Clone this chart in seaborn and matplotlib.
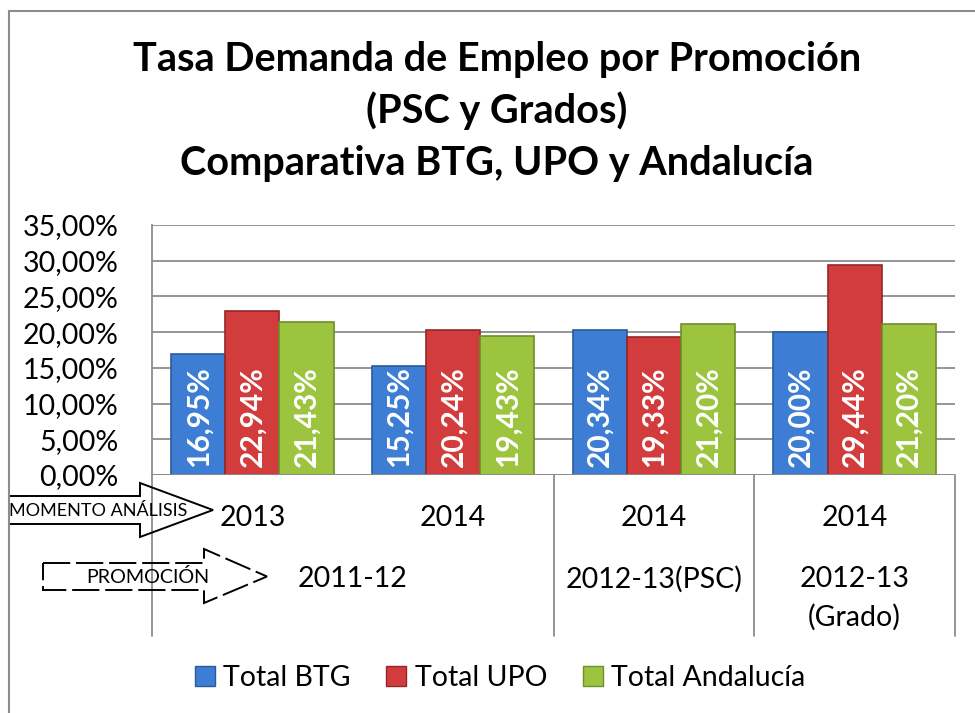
import matplotlib
matplotlib.use("Agg")
import matplotlib.pyplot as plt
from matplotlib.lines import Line2D
from matplotlib.patches import Polygon
import matplotlib.transforms as mtransforms
import seaborn as sns
import pandas as pd

# datos
momento = ["2013", "2014", "2014", "2014"]
grupos = ["g1", "g2", "g3", "g4"]
series = ["Total BTG", "Total UPO", "Total Andalucía"]
total_btg = [16.95, 15.25, 20.34, 20.00]
total_upo = [22.94, 20.24, 19.33, 29.44]
total_and = [21.43, 19.43, 21.20, 21.20]
promociones = [["2011-12"], ["2012-13(PSC)"], ["2012-13", "(Grado)"]]
promo_span = [(0, 1), (2, 2), (3, 3)]
y_ticks = [0, 5, 10, 15, 20, 25, 30, 35]
titulo = ["Tasa Demanda de Empleo por Promoción", "(PSC y Grados)",
          "Comparativa BTG, UPO y Andalucía"]

colores = ["#3d7ed4", "#d23c3c", "#9cc43f"]
bordes = ["#2a5a9c", "#962626", "#6e8f2a"]

rows = []
for s, vals in zip(series, [total_btg, total_upo, total_and]):
    for g, v in zip(grupos, vals):
        rows.append({"grupo": g, "serie": s, "valor": v})
df = pd.DataFrame(rows)

sns.set_style("white")
plt.rcParams["font.family"] = ["Lato", "DejaVu Sans"]
plt.rcParams["text.color"] = "black"
plt.rcParams["ytick.color"] = "black"
plt.rcParams["xtick.color"] = "black"

W, H = 975, 713
fig = plt.figure(figsize=(9.75, 7.13), dpi=100)


def fx(px):
    return px / W


def fy(py):
    return 1 - py / H


ax = fig.add_axes([fx(152), fy(475), fx(955) - fx(152), fy(225) - fy(475)])

sns.barplot(data=df, x="grupo", y="valor", hue="serie", palette=colores,
            width=0.81, saturation=1, ax=ax, legend=False)

# bordes mas oscuros y etiquetas en la base de cada barra
for cont, bc in zip(ax.containers, bordes):
    for p in cont:
        p.set_edgecolor(bc)
        p.set_linewidth(1.2)
        p.set_zorder(3)
        lab = f"{p.get_height():.2f}%".replace(".", ",")
        ax.text(p.get_x() + p.get_width() / 2, 1.1, lab, rotation=90,
                ha="center", va="bottom", color="white", fontsize=21.5,
                fontweight="bold", zorder=4)

ax.set_ylim(0, 35)
ax.set_yticks(y_ticks)
ax.set_yticklabels([f"{t:.2f}%".replace(".", ",") for t in y_ticks], fontsize=20.5)
ax.tick_params(axis="y", length=0, pad=24)
ax.set_xticks([])
ax.set_xlabel("")
ax.set_ylabel("")
ax.yaxis.grid(True, color="#8c8c8c", linewidth=1.3, zorder=0)
ax.set_axisbelow(True)
for sp in ["top", "right", "bottom"]:
    ax.spines[sp].set_visible(False)
ax.spines["left"].set_color("#8c8c8c")
ax.spines["left"].set_linewidth(1.3)
ax.axhline(0, color="#8c8c8c", lw=1.3, zorder=5)

# ejes de categorias multinivel
trans = mtransforms.blended_transform_factory(ax.transData, fig.transFigure)
for xb in [-0.5, 1.5, 2.5, 3.5]:
    ax.plot([xb, xb], [fy(475), fy(636)], transform=trans, color="#8c8c8c",
            lw=1.3, clip_on=False)
for i, m in enumerate(momento):
    ax.text(i, fy(518), m, transform=trans, ha="center", va="center", fontsize=20.5)
for (a, b), pr in zip(promo_span, promociones):
    for k, linea in enumerate(pr):
        ax.text((a + b) / 2, fy(579 + 38 * k), linea, transform=trans,
                ha="center", va="center", fontsize=20.5)

ax.set_xlim(-0.5, 3.5)

# titulo
for yy, linea in zip([60, 111, 163], titulo):
    fig.text(fx(497), fy(yy), linea, ha="center", va="center", fontsize=28.5,
             fontweight="bold")

# marco del grafico
fig.add_artist(Line2D([fx(9), 1], [fy(11), fy(11)], color="#8c8c8c", lw=1.5))
fig.add_artist(Line2D([fx(9), fx(9)], [fy(11), 0], color="#8c8c8c", lw=1.5))


def flecha(x0, y0, y1, xh, yh0, yh1, xt, ls):
    ym = (y0 + y1) / 2
    pts = [(x0, y0), (xh, y0), (xh, yh0), (xt, ym), (xh, yh1), (xh, y1), (x0, y1)]
    pts = [(fx(a), fy(b)) for a, b in pts]
    fig.add_artist(Polygon(pts, closed=True, fill=False, edgecolor="black",
                           lw=1.4, ls=ls, transform=fig.transFigure))


flecha(9, 496, 524, 140, 483, 537, 213, "-")
fig.text(fx(9), fy(511), "MOMENTO ANÁLISIS", ha="left", va="center", fontsize=13)
flecha(43, 563, 590, 204, 549, 603, 267, (0, (14, 3)))
fig.text(fx(148), fy(577), "PROMOCIÓN", ha="center", va="center", fontsize=14.2)

# leyenda
handles = [plt.Rectangle((0, 0), 1, 1, facecolor=c, edgecolor=b)
           for c, b in zip(colores, bordes)]
fig.legend(handles, series, loc="center", bbox_to_anchor=(fx(500), fy(678)),
           ncol=3, frameon=False, fontsize=20.5, handlelength=0.7,
           handleheight=0.7, handletextpad=0.3, columnspacing=1.25)

fig.savefig("out.png", dpi=100)
